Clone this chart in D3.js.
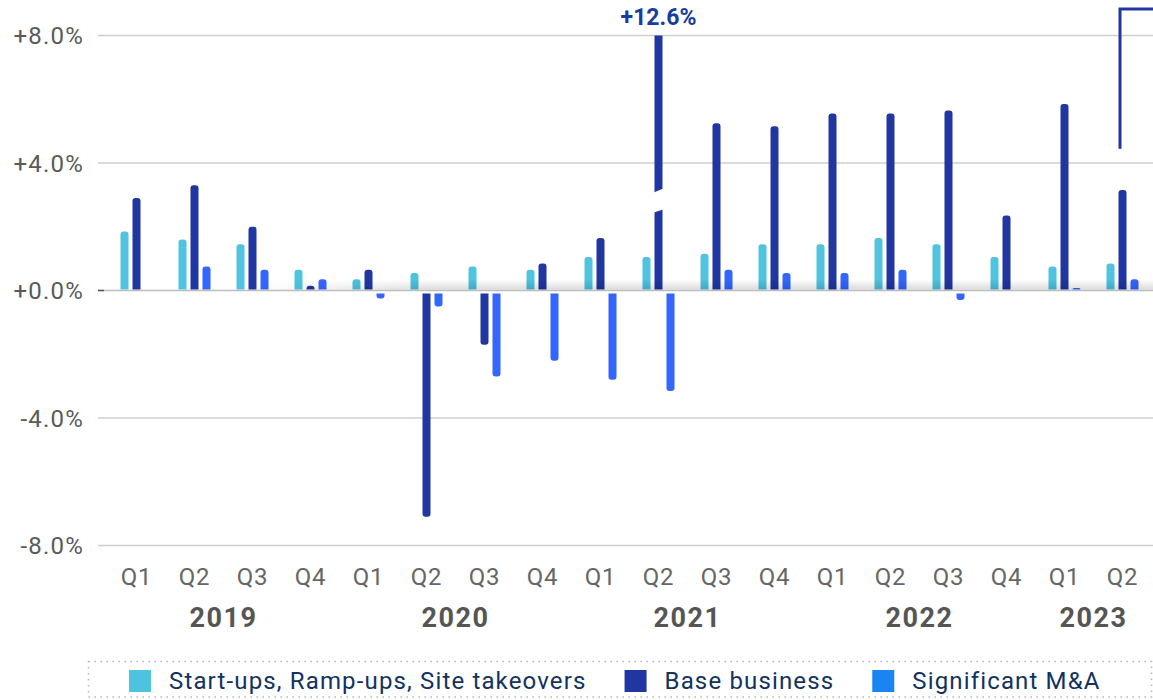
<!DOCTYPE html>
<html>
<head>
<meta charset="utf-8">
<script src="https://cdn.jsdelivr.net/npm/d3@7"></script>
<style>
  html, body { margin: 0; padding: 0; background: #fff; }
  svg { display: block; font-family: Roboto, "Noto Sans", sans-serif; }
</style>
</head>
<body>
<svg id="chart" width="1153" height="700"></svg>
<script>
// Quarterly growth contributions, 2019 Q1 – 2023 Q2 (percent)
const quarters = ["Q1","Q2","Q3","Q4","Q1","Q2","Q3","Q4","Q1","Q2","Q3","Q4","Q1","Q2","Q3","Q4","Q1","Q2"];
const years    = ["2019","2019","2019","2019","2020","2020","2020","2020","2021","2021","2021","2021","2022","2022","2022","2022","2023","2023"];
const startUps = [1.85, 1.6, 1.45, 0.65, 0.35, 0.55, 0.75, 0.65, 1.05, 1.05, 1.15, 1.45, 1.45, 1.65, 1.45, 1.05, 0.75, 0.85];
const baseBusiness = [2.9, 3.3, 2.0, 0.15, 0.65, -7.1, -1.7, 0.85, 1.65, 12.6, 5.25, 5.15, 5.55, 5.55, 5.65, 2.35, 5.85, 3.15];
const significantMA = [0, 0.75, 0.65, 0.35, -0.25, -0.5, -2.7, -2.2, -2.8, -3.15, 0.65, 0.55, 0.55, 0.65, -0.3, 0, 0.05, 0.35];
const yTicks = [-8, -4, 0, 4, 8];
const seriesNames = ["Start-ups, Ramp-ups, Site takeovers", "Base business", "Significant M&A"];

const barColors = ["#4fc3df", "#2036a1", "#3366ff"];
const legendColors = ["#4dc3e0", "#2036a1", "#1a84f2"];

const svg = d3.select("#chart");
const W = 1153;
const keys = quarters.map((q, i) => i);

const x = d3.scaleBand().domain(keys).range([107.5, 1151.5]);
const xs = d3.scaleBand().domain([0, 1, 2]).range([-18, 18]).paddingInner(1/3).paddingOuter(1/6);
const y = d3.scaleLinear().domain([-8, 8]).range([545.5, 35.5]);
const cx = i => x(i) + x.bandwidth() / 2;

// Gridlines
const gridLeft = 98;
svg.append("g").selectAll("line").data(yTicks).join("line")
  .attr("x1", gridLeft).attr("x2", W)
  .attr("y1", d => y(d)).attr("y2", d => y(d))
  .attr("stroke", d => d === 0 ? "#bdbdbd" : "#cfcfcf")
  .attr("stroke-width", 1.5);
svg.append("line").attr("x1", gridLeft).attr("x2", gridLeft + 6)
  .attr("y1", y(0)).attr("y2", y(0)).attr("stroke", "#555").attr("stroke-width", 1.5);

// Y axis labels
const fmt = d => (d < 0 ? "-" : "+") + Math.abs(d).toFixed(1) + "%";
svg.append("g").selectAll("text").data(yTicks).join("text")
  .attr("x", 84).attr("y", d => y(d) + 8.5)
  .attr("text-anchor", "end")
  .attr("font-size", 24).attr("letter-spacing", 1.2)
  .attr("fill", "#5a5a5a")
  .text(fmt);

// Bars with rounded outer ends
const r = 3;
function barPath(x0, w, v) {
  const y0 = v >= 0 ? y(0) - 1 : y(0) + 3;
  let y1 = y(Math.max(-8, Math.min(8, v)));
  const clipped = v > 8;
  if (v >= 0) {
    if (y1 > y0 - 1.5) y1 = y0 - 1.5;
    const rr = clipped ? 0 : Math.min(r, (y0 - y1));
    return `M${x0},${y0}V${y1 + rr}Q${x0},${y1} ${x0 + rr},${y1}H${x0 + w - rr}Q${x0 + w},${y1} ${x0 + w},${y1 + rr}V${y0}Z`;
  } else {
    if (y1 < y0 + 1.5) y1 = y0 + 1.5;
    const rr = Math.min(r, (y1 - y0));
    return `M${x0},${y0}V${y1 - rr}Q${x0},${y1} ${x0 + rr},${y1}H${x0 + w - rr}Q${x0 + w},${y1} ${x0 + w},${y1 - rr}V${y0}Z`;
  }
}

const series = [startUps, baseBusiness, significantMA];
series.forEach((vals, s) => {
  svg.append("g").selectAll("path").data(vals.map((v, i) => ({ v, i }))).join("path")
    .filter(d => d.v !== 0)
    .attr("d", d => barPath(cx(d.i) + xs(s), xs.bandwidth(), d.v))
    .attr("fill", barColors[s]);
});

// Shading just above the zero line
const defs = svg.append("defs");
const vg = defs.append("linearGradient").attr("id", "zeroShade").attr("x1", 0).attr("x2", 0).attr("y1", 0).attr("y2", 1);
vg.append("stop").attr("offset", "0%").attr("stop-color", "#000").attr("stop-opacity", 0);
vg.append("stop").attr("offset", "100%").attr("stop-color", "#000").attr("stop-opacity", 0.14);
const hg = defs.append("linearGradient").attr("id", "zeroFade").attr("x1", 0).attr("x2", 1).attr("y1", 0).attr("y2", 0);
hg.append("stop").attr("offset", "0%").attr("stop-color", "#fff").attr("stop-opacity", 0);
hg.append("stop").attr("offset", "20%").attr("stop-color", "#fff").attr("stop-opacity", 1);
hg.append("stop").attr("offset", "100%").attr("stop-color", "#fff").attr("stop-opacity", 1);
const mask = defs.append("mask").attr("id", "zeroMask");
mask.append("rect").attr("x", 250).attr("y", y(0) - 12).attr("width", W - 250).attr("height", 12).attr("fill", "url(#zeroFade)");
svg.append("rect").attr("x", 250).attr("y", y(0) - 11).attr("width", W - 250).attr("height", 10)
  .attr("fill", "url(#zeroShade)").attr("mask", "url(#zeroMask)");

// Axis break on the out-of-range bar + its value label
baseBusiness.forEach((v, i) => {
  if (v <= 8) return;
  const bx = cx(i) + xs(1);
  const bw = xs.bandwidth();
  const yb = y(3.0);
  svg.append("polygon")
    .attr("points", [[bx - 2, yb - 2], [bx + bw + 2, yb - 7], [bx + bw + 2, yb + 14], [bx - 2, yb + 18]].map(p => p.join(",")).join(" "))
    .attr("fill", "#fff");
  svg.append("text").attr("x", cx(i)).attr("y", 25)
    .attr("text-anchor", "middle").attr("font-size", 23).attr("font-weight", 700)
    .attr("fill", "#1a3c9c").text("+" + v.toFixed(1) + "%");
});

// Callout bracket rising from the latest quarter
{
  const last = quarters.length - 1;
  const bx = cx(last) + xs(1) + 1.5;
  svg.append("path")
    .attr("d", `M${bx},${y(4.45)}V${9}H${W}`)
    .attr("fill", "none").attr("stroke", "#2036a1").attr("stroke-width", 3);
}

// X axis: quarter labels and year labels
svg.append("g").selectAll("text").data(keys).join("text")
  .attr("x", i => cx(i)).attr("y", 585)
  .attr("text-anchor", "middle").attr("font-size", 24).attr("letter-spacing", 0.8)
  .attr("fill", "#666").text(i => quarters[i]);

const yearGroups = d3.groups(keys, i => years[i]);
svg.append("g").selectAll("text").data(yearGroups).join("text")
  .attr("x", d => (cx(d[1][0]) + cx(d[1][d[1].length - 1])) / 2)
  .attr("y", 627)
  .attr("text-anchor", "middle").attr("font-size", 27).attr("font-weight", 700)
  .attr("letter-spacing", 1.5)
  .attr("fill", "#555").text(d => d[0]);

// Legend
svg.append("rect").attr("x", 88.5).attr("y", 661.5).attr("width", 1063).attr("height", 35.5)
  .attr("fill", "none").attr("stroke", "#b5b5b5").attr("stroke-width", 1.5)
  .attr("stroke-dasharray", "1.5,4.5");
const lg = svg.append("g");
let lx = 129;
seriesNames.forEach((name, s) => {
  lg.append("rect").attr("x", lx).attr("y", 670).attr("width", 22).attr("height", 22).attr("fill", legendColors[s]);
  const t = lg.append("text").attr("x", lx + 40).attr("y", 688.5)
    .attr("font-size", 24).attr("letter-spacing", 1.15).attr("fill", "#12325f").text(name);
  lx = lx + 40 + t.node().getComputedTextLength() + 38;
});
</script>
</body>
</html>
